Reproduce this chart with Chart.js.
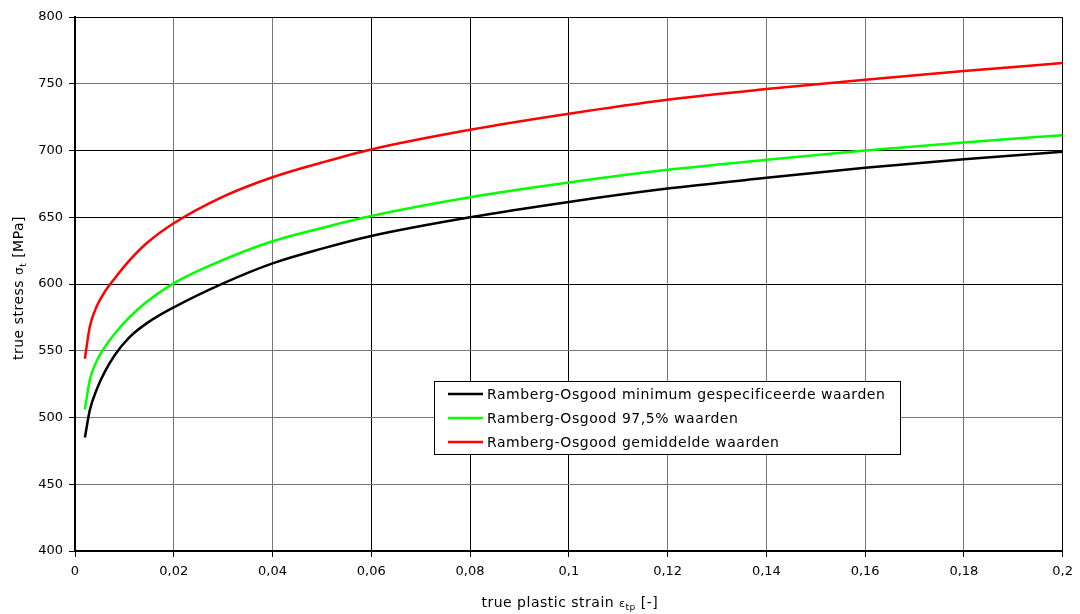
<!DOCTYPE html>
<html>
<head>
<meta charset="utf-8">
<title>Ramberg-Osgood true stress vs true plastic strain</title>
<script src="https://cdn.jsdelivr.net/npm/chart.js@4.4.1/dist/chart.umd.min.js"></script>
<style>
  html, body { margin: 0; padding: 0; background: #fff; }
  #wrap { width: 1080px; height: 614px; position: relative; }
</style>
</head>
<body>
<div id="wrap"><canvas id="chart"></canvas></div>
<script>
  // true plastic strain [-]
  var strain = [0.002, 0.003, 0.0045, 0.006, 0.008, 0.011, 0.0145, 0.02, 0.03, 0.04,
                0.05, 0.06, 0.08, 0.1, 0.12, 0.14, 0.16, 0.18, 0.2];

  // true stress [MPa] per curve
  var stressMin  = [485, 505.5, 522, 534, 546.5, 560, 570.5, 582.5, 600.5, 615.5,
                    626.5, 636, 650, 661.5, 671.5, 679.5, 687, 693.5, 699];
  var stress975  = [506, 528, 543, 552.5, 562.5, 575, 586.5, 600.5, 618, 632,
                    642, 651, 665, 676, 685.5, 693, 700, 706, 711.5];
  var stressMean = [544, 568, 584, 594, 604, 617.5, 630.5, 645.5, 665.5, 680,
                    691, 700.8, 715.5, 727.5, 738, 746, 753, 759.5, 765.5];

  var seriesLabels = [
    "Ramberg-Osgood minimum gespecificeerde waarden",
    "Ramberg-Osgood 97,5% waarden",
    "Ramberg-Osgood gemiddelde waarden"
  ];

  var xTicks = [0, 0.02, 0.04, 0.06, 0.08, 0.1, 0.12, 0.14, 0.16, 0.18, 0.2];
  var xTickLabels = ["0", "0,02", "0,04", "0,06", "0,08", "0,1", "0,12", "0,14", "0,16", "0,18", "0,2"];
  var yTicks = [400, 450, 500, 550, 600, 650, 700, 750, 800];

  var FONT = "'DejaVu Sans', Verdana, sans-serif";

  function pts(ys) {
    return strain.map(function (x, i) { return { x: x, y: ys[i] }; });
  }

  // grid lines: some render darker than others at this size
  var xGridDark = { 0.06: 1, 0.08: 1, 0.1: 1, 0.2: 1 };
  var yGridDark = { 600: 1, 650: 1, 700: 1, 800: 1 };

  // axis titles with subscripts
  var axisTitles = {
    id: "axisTitles",
    afterDraw: function (chart) {
      var c = chart.ctx, a = chart.chartArea;
      c.save();
      c.fillStyle = "#000";
      c.textBaseline = "alphabetic";
      c.letterSpacing = "0.5px";

      function run(parts, x, y) {
        // parts: [text, size, dy]
        var w = 0;
        parts.forEach(function (p) { c.font = p[1] + "px " + FONT; w += c.measureText(p[0]).width; });
        var cx = x - w / 2;
        parts.forEach(function (p) {
          c.font = p[1] + "px " + FONT;
          c.fillText(p[0], cx, y + p[2]);
          cx += c.measureText(p[0]).width;
        });
      }

      run([["true plastic strain ", 14, 0], ["ε", 11, 0], ["tp", 9, 3], [" [-]", 14, 0]],
          (a.left + a.right) / 2 + 1, 607);

      c.translate(23, (a.top + a.bottom) / 2 + 4);
      c.rotate(-Math.PI / 2);
      run([["true stress ", 14, 0], ["σ", 12, 0], ["t", 9, 3], [" [MPa]", 14, 0]], 0, 0);
      c.restore();
    }
  };

  // boxed legend inside the plot area
  var boxLegend = {
    id: "boxLegend",
    afterDraw: function (chart) {
      var c = chart.ctx;
      var x0 = 434.5, y0 = 381.5, w = 466, h = 73;
      c.save();
      c.fillStyle = "#fff";
      c.fillRect(x0, y0, w, h);
      c.strokeStyle = "#000";
      c.lineWidth = 1;
      c.strokeRect(x0, y0, w, h);
      c.font = "14px " + FONT;
      c.letterSpacing = "0.55px";
      c.textBaseline = "middle";
      var rows = [394, 418, 442];
      chart.data.datasets.forEach(function (ds, i) {
        c.strokeStyle = ds.borderColor;
        c.lineWidth = 2.5;
        c.beginPath();
        c.moveTo(448, rows[i]);
        c.lineTo(483, rows[i]);
        c.stroke();
        c.fillStyle = "#000";
        c.fillText(ds.label, 487, rows[i] + 1);
      });
      c.restore();
    }
  };

  new Chart(document.getElementById("chart"), {
    type: "line",
    data: {
      datasets: [
        { label: seriesLabels[0], data: pts(stressMin),  borderColor: "#000000" },
        { label: seriesLabels[1], data: pts(stress975),  borderColor: "#00ff00" },
        { label: seriesLabels[2], data: pts(stressMean), borderColor: "#ff0000" }
      ].map(function (d) {
        d.borderWidth = 2.5;
        d.pointRadius = 0;
        d.fill = false;
        d.cubicInterpolationMode = "monotone";
        return d;
      })
    },
    options: {
      responsive: true,
      maintainAspectRatio: false,
      animation: false,
      layout: { padding: { top: 17, right: 17, left: 0, bottom: 0 } },
      plugins: { legend: { display: false }, tooltip: { enabled: false } },
      scales: {
        x: {
          type: "linear",
          min: 0, max: 0.2,
          afterFit: function (s) { s.height = 63; },
          afterBuildTicks: function (s) { s.ticks = xTicks.map(function (v) { return { value: v }; }); },
          ticks: {
            color: "#000", padding: 7, maxRotation: 0, autoSkip: false,
            font: { family: FONT, size: 13 },
            callback: function (v, i) { return xTickLabels[i]; }
          },
          grid: {
            color: function (ctx) { return ctx.tick && xGridDark[ctx.tick.value] ? "#000" : "#777"; },
            lineWidth: 1,
            tickLength: 6,
            tickColor: "#000"
          },
          border: { color: "#000", width: 2 }
        },
        y: {
          min: 400, max: 800,
          afterFit: function (s) { s.width = 75; },
          afterBuildTicks: function (s) { s.ticks = yTicks.map(function (v) { return { value: v }; }); },
          ticks: {
            color: "#000", padding: 6,
            font: { family: FONT, size: 13 }
          },
          grid: {
            color: function (ctx) { return ctx.tick && yGridDark[ctx.tick.value] ? "#000" : "#777"; },
            lineWidth: 1,
            tickLength: 6,
            tickColor: "#000"
          },
          border: { color: "#000", width: 2 }
        }
      }
    },
    plugins: [axisTitles, boxLegend]
  });
</script>
</body>
</html>
